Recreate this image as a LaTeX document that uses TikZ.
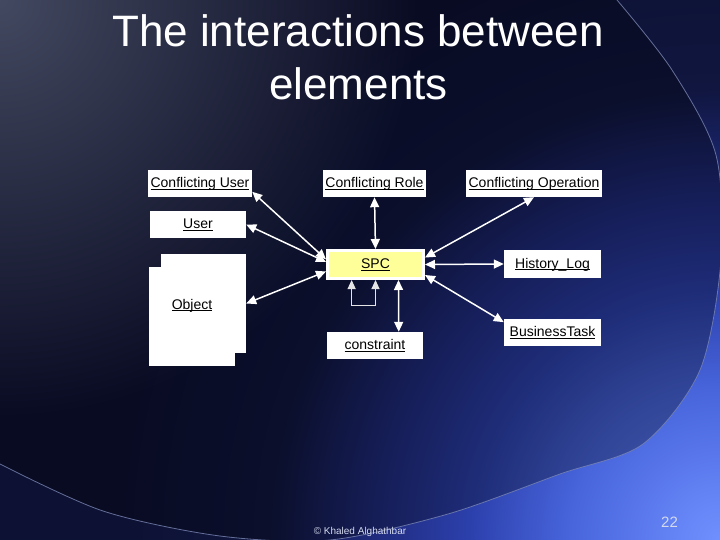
\documentclass[tikz,border=0pt]{standalone}
\usepackage{fontspec}
\setmainfont{Liberation Sans}
\usetikzlibrary{arrows.meta,fadings}

\definecolor{slidenavy}{HTML}{0D1133}
\definecolor{glowa}{HTML}{7090FF}
\definecolor{glowb}{HTML}{4865DC}
\definecolor{glowc}{HTML}{2C40AC}
\definecolor{glowd}{HTML}{202C80}
\definecolor{glowe}{HTML}{10163F}
\definecolor{slidegrey}{HTML}{434960}
\definecolor{arcgrey}{HTML}{7A86B4}
\definecolor{spcyellow}{HTML}{FFFF99}
\definecolor{footgrey}{HTML}{D4DAEE}

\pgfdeclareradialshading{cornerglow}{\pgfpoint{0bp}{0bp}}{%
  color(0bp)=(glowa); color(150bp)=(glowb); color(250bp)=(glowc);
  color(340bp)=(glowd); color(450bp)=(glowe); color(600bp)=(slidenavy)}
\tikzfading[name=greyfade, inner color=transparent!0, outer color=transparent!100]

% underline just below the baseline, as in the slide
\newcommand{\elemul}[1]{\setbox0\hbox{#1}\rlap{\rule[-2.2pt]{\wd0}{0.9pt}}\box0}
% outline of the big arc on the slide
\newcommand{\slidearc}{(0,464) (103,511) (220,536) (330,540) (448,514) (560,474)
  (643,444) (700,370) (721,260) (716,155) (672,70) (617,0)}

\begin{document}
\begin{tikzpicture}[x=1pt,y=-1pt,
    elemtext/.style={text=black, font=\fontsize{14}{16}\selectfont,
      text height=10.5pt, text depth=2.5pt, inner sep=0pt},
    elem/.style={elemtext, fill=white, draw=none},
    link/.style={white, line width=1.5pt,
      {Triangle[length=10pt,width=9pt]}-{Triangle[length=10pt,width=9pt]}},
    selfloop/.style={white!80!gray, line width=1pt,
      {Triangle[length=9pt,width=8pt]}-{Triangle[length=9pt,width=8pt]}},
    title/.style={white, font=\fontsize{44}{50}\selectfont, inner sep=0pt}]

  % background
  \useasboundingbox (0,0) rectangle (720,540);
  \clip (0,0) rectangle (720,540);
  \fill[slidenavy] (0,0) rectangle (720,540);
  \path (720,540) node[inner sep=0pt, outer sep=0pt] (glow) {\pgfuseshading{cornerglow}};
  \fill[black, fill opacity=0.3] plot[smooth] coordinates {\slidearc} -- (0,0) -- cycle;
  \fill[slidegrey, path fading=greyfade] (0,0) circle (420);
  \draw[arcgrey, line width=0.8pt, opacity=0.8] plot[smooth] coordinates {\slidearc};

  % title
  \node[title, anchor=base] (title1) at (358,47) {The interactions between};
  \node[title, anchor=base] (title2) at (358.5,100) {elements};

  % elements
  \node[elem, minimum width=104pt, minimum height=27pt] (cuser) at (200,183.5) {\elemul{Conflicting User}};
  \node[elem, minimum width=103pt, minimum height=27pt] (crole) at (374.5,183.5) {\elemul{Conflicting Role}};
  \node[elem, minimum width=136pt, minimum height=27pt] (cop) at (534,183.5) {\elemul{Conflicting Operation}};
  \node[elem, minimum width=96pt, minimum height=27pt] (user) at (198,224.5) {\elemul{User}};
  \node[fill=white, minimum width=85pt, minimum height=99pt, inner sep=0pt] (objback) at (203.5,303.5) {};
  \node[fill=white, minimum width=86pt, minimum height=99pt, inner sep=0pt,
    label={[elemtext, yshift=11.5pt]center:\elemul{Object}}] (object) at (192,316.5) {};
  \node[elemtext, fill=spcyellow, draw=white, line width=3pt,
    minimum width=96pt, minimum height=28pt] (spc) at (375.5,264.5) {\elemul{SPC}};
  \node[elem, minimum width=97pt, minimum height=28pt] (hlog) at (552.5,264) {\elemul{History\_Log}};
  \node[elem, minimum width=97pt, minimum height=27pt] (btask) at (552.5,332.5) {\elemul{BusinessTask}};
  \node[elem, minimum width=96pt, minimum height=27pt] (cons) at (375,345.5) {\elemul{constraint}};

  % connectors
  \draw[link] (spc.174.7) -- (cuser.-9.3);
  \draw[link] (spc.177.1) -- (user.east);
  \draw[link] (spc.188.6) -- (objback.east);
  \draw[link] (spc.north) -- (crole.south);
  \draw[link] (spc.8.6) -- (cop.south);
  \draw[link] (spc.east) -- (hlog.west);
  \draw[link] (spc.-12) -- (btask.168.9);
  \draw[link] (spc.-34.6) -- (cons.30.4);
  \draw[selfloop] (spc.213.4) -- ++(0,25) -| (spc.south);

  % footer
  \node[footgrey, font=\fontsize{10}{12}\selectfont, anchor=base, inner sep=0pt] (author) at (360,534) {© Khaled Alghathbar};
  \node[footgrey, font=\fontsize{15}{18}\selectfont, anchor=base, inner sep=0pt] (pageno) at (669.5,527) {22};
\end{tikzpicture}
\end{document}
